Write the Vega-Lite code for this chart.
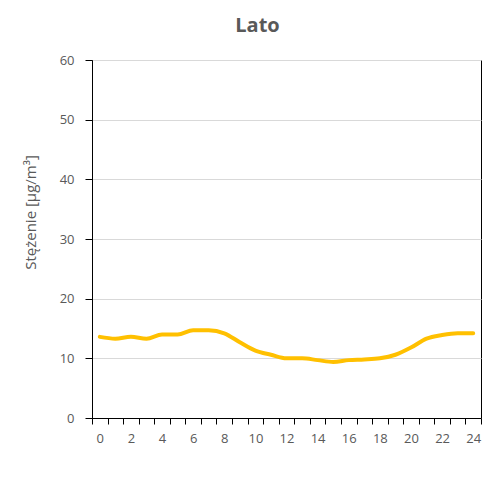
{
  "$schema": "https://vega.github.io/schema/vega-lite/v6.json",
  "autosize": {"type": "none"},
  "padding": {"left": 92, "top": 60, "right": 19, "bottom": 66},
  "width": 389,
  "height": 358,
  "background": "white",
  "title": {
    "text": "Lato",
    "font": "Open Sans",
    "fontSize": 20,
    "fontWeight": "bold",
    "color": "#595959",
    "offset": 18,
    "dx": -29
  },
  "config": {
    "view": {"stroke": "#000000", "strokeWidth": 1},
    "axis": {
      "labelFont": "Open Sans",
      "labelFontSize": 13,
      "labelColor": "#595959",
      "titleFont": "Open Sans",
      "titleFontSize": 15,
      "titleFontWeight": "normal",
      "titleColor": "#595959",
      "domainColor": "#000000",
      "tickColor": "#000000"
    }
  },
  "data": {
    "values": [
      {"hour": 0, "value": 13.6},
      {"hour": 1, "value": 13.3},
      {"hour": 2, "value": 13.6},
      {"hour": 3, "value": 13.3},
      {"hour": 4, "value": 14.0},
      {"hour": 5, "value": 14.0},
      {"hour": 6, "value": 14.7},
      {"hour": 7, "value": 14.7},
      {"hour": 8, "value": 14.2},
      {"hour": 9, "value": 12.7},
      {"hour": 10, "value": 11.3},
      {"hour": 11, "value": 10.6},
      {"hour": 12, "value": 10.0},
      {"hour": 13, "value": 10.0},
      {"hour": 14, "value": 9.7},
      {"hour": 15, "value": 9.4},
      {"hour": 16, "value": 9.7},
      {"hour": 17, "value": 9.8},
      {"hour": 18, "value": 10.0},
      {"hour": 19, "value": 10.6},
      {"hour": 20, "value": 11.8},
      {"hour": 21, "value": 13.3},
      {"hour": 22, "value": 13.9},
      {"hour": 23, "value": 14.2},
      {"hour": 24, "value": 14.2}
    ]
  },
  "mark": {
    "type": "line",
    "color": "#FFC000",
    "strokeWidth": 4,
    "interpolate": "monotone",
    "strokeCap": "round"
  },
  "encoding": {
    "x": {
      "field": "hour",
      "type": "ordinal",
      "bandPosition": 0.5,
      "scale": {"type": "band", "paddingInner": 0, "paddingOuter": 0},
      "axis": {
        "title": null,
        "labelAngle": 0,
        "tickBand": "extent",
        "tickSize": 6,
        "labelPadding": 8,
        "grid": false,
        "labelExpr": "datum.value % 2 == 0 ? datum.label : ''"
      }
    },
    "y": {
      "field": "value",
      "type": "quantitative",
      "scale": {"domain": [0, 60]},
      "axis": {
        "title": "Stężenie [µg/m³]",
        "values": [0, 10, 20, 30, 40, 50, 60],
        "tickSize": 7,
        "labelPadding": 11,
        "titlePadding": 21,
        "titleY": 152,
        "gridColor": "#d9d9d9",
        "gridWidth": 1
      }
    }
  }
}
